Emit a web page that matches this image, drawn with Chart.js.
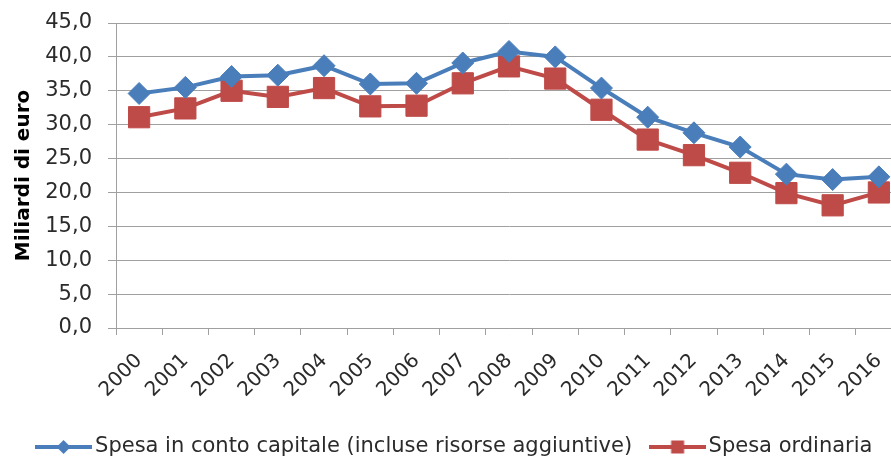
<!DOCTYPE html>
<html>
<head>
<meta charset="utf-8">
<title>Spesa in conto capitale</title>
<script src="https://cdn.jsdelivr.net/npm/chart.js@4/dist/chart.umd.min.js"></script>
<style>
  html, body { margin: 0; padding: 0; background: #fff; overflow: hidden; }
  #wrap { width: 891px; height: 459px; overflow: hidden; }
  #chart { display: block; }
</style>
</head>
<body>
<div id="wrap"><canvas id="chart" width="918" height="459"></canvas></div>
<script>
const years = ["2000","2001","2002","2003","2004","2005","2006","2007","2008",
               "2009","2010","2011","2012","2013","2014","2015","2016"];
const spesaCapitale = [34.6, 35.5, 37.1, 37.3, 38.7, 36.0, 36.1, 39.1, 40.8,
                       40.0, 35.4, 31.1, 28.8, 26.7, 22.7, 21.9, 22.3];
const spesaOrdinaria = [31.1, 32.4, 35.0, 34.1, 35.4, 32.7, 32.8, 36.1, 38.6,
                        36.8, 32.2, 27.8, 25.5, 22.9, 19.9, 18.1, 20.0];
const yTicks = [0, 5, 10, 15, 20, 25, 30, 35, 40, 45];

const BLUE = "#4A7EBB";
const RED = "#BE4B48";
const GRID = "#A0A0A0";
const TEXT = "#2b2b2b";
const FONT = "'DejaVu Sans', sans-serif";

// small line + marker pictures for the legend, like the spreadsheet legend
function legendIcon(color, shape) {
    const c = document.createElement("canvas");
    c.width = 57; c.height = 20;
    const g = c.getContext("2d");
    g.strokeStyle = color;
    g.lineWidth = 4;
    g.beginPath(); g.moveTo(0, 10); g.lineTo(57, 10); g.stroke();
    g.fillStyle = color;
    g.beginPath();
    if (shape === "diamond") {
        g.moveTo(28.5, 3); g.lineTo(35.5, 10); g.lineTo(28.5, 17); g.lineTo(21.5, 10);
    } else {
        g.rect(22.5, 3.5, 13, 13);
    }
    g.closePath(); g.fill();
    return c;
}

const icons = [legendIcon(BLUE, "diamond"), legendIcon(RED, "square")];

new Chart(document.getElementById("chart"), {
    type: "line",
    data: {
        labels: years,
        datasets: [{
            label: "Spesa in conto capitale (incluse risorse aggiuntive)",
            data: spesaCapitale,
            borderColor: BLUE,
            backgroundColor: BLUE,
            borderWidth: 4,
            pointStyle: "rectRot",
            pointRadius: 11,
            pointBorderWidth: 1,
            tension: 0
        }, {
            label: "Spesa ordinaria",
            data: spesaOrdinaria,
            borderColor: RED,
            backgroundColor: RED,
            borderWidth: 4,
            pointStyle: "rect",
            pointRadius: 15,
            pointBorderWidth: 1,
            tension: 0
        }]
    },
    options: {
        responsive: false,
        animation: false,
        layout: { padding: { top: 23, left: 0, right: 3, bottom: -8.5 } },
        plugins: {
            tooltip: { enabled: false },
            legend: {
                position: "bottom",
                labels: {
                    usePointStyle: true,
                    pointStyleWidth: 42,   // icon is wider, so text sits close to it
                    padding: 24,
                    color: TEXT,
                    font: { family: FONT, size: 21 },
                    generateLabels: function(chart) {
                        return chart.data.datasets.map(function(ds, i) {
                            return {
                                text: ds.label,
                                pointStyle: icons[i],
                                fillStyle: ds.borderColor,
                                strokeStyle: ds.borderColor,
                                fontColor: TEXT,
                                lineWidth: 0,
                                hidden: false,
                                datasetIndex: i
                            };
                        });
                    }
                }
            }
        },
        scales: {
            x: {
                offset: true,
                grid: {
                    offset: true,
                    drawOnChartArea: false,
                    drawTicks: true,
                    tickLength: 7,
                    color: GRID,
                    lineWidth: 1
                },
                border: { display: true, color: GRID, width: 1 },
                ticks: {
                    autoSkip: false,
                    minRotation: 45,
                    maxRotation: 45,
                    color: TEXT,
                    font: { family: FONT, size: 20 },
                    padding: 14
                },
                afterFit: function(s) { s.height = 84.5; s.paddingRight = 0; }
            },
            y: {
                min: 0,
                max: 45,
                afterBuildTicks: function(s) { s.ticks = yTicks.map(function(v) { return { value: v }; }); },
                grid: { color: GRID, lineWidth: 1, tickLength: 8 },
                border: { display: true, color: GRID, width: 1 },
                ticks: {
                    color: TEXT,
                    font: { family: FONT, size: 21 },
                    padding: 16,
                    callback: function(v) { return v.toFixed(1).replace(".", ","); }
                },
                title: {
                    display: true,
                    text: "Miliardi di euro",
                    color: "#000",
                    font: { family: FONT, size: 20, weight: "bold" },
                    padding: { top: 12, bottom: 0 }
                },
                afterFit: function(s) { s.width = 116; s.paddingTop = 0; s.paddingBottom = 0; }
            }
        }
    }
});
</script>
</body>
</html>
